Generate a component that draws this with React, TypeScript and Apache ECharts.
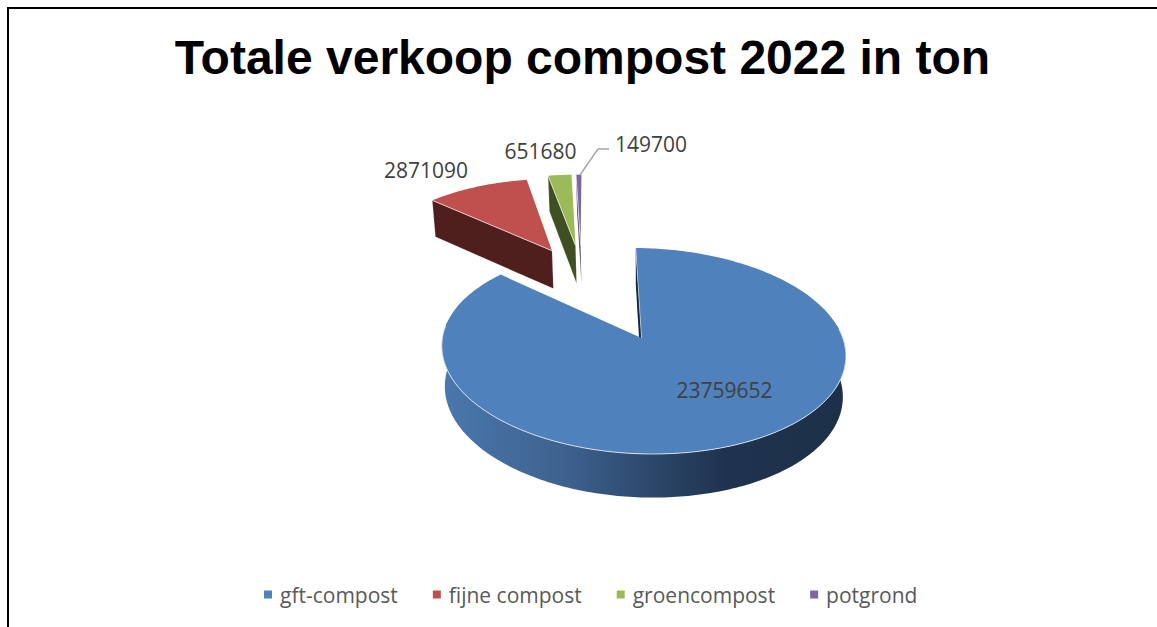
import React, { useEffect, useRef } from "react";
import * as echarts from "echarts";

const categories = ["gft-compost", "fijne compost", "groencompost", "potgrond"];
const tonnes = [23759652, 2871090, 651680, 149700];
const titleText = "Totale verkoop compost 2022 in ton";

const topColors = ["#4f81bd", "#c0504d", "#9bbb59", "#8064a2"];
const wallColors = ["#14263f", "#4f1f1d", "#3f4f21", "#3a2e55"];

// perspective camera and exploded-slice layout
const apexX = [641.5, 552, 575.5, 580.5];
const worldX = [0.228, -0.275, -0.052, -0.01];
const worldY = [0.511, -0.488, -0.557, -0.56];
const nudgeY = [-0.3, 3, 3, 3];
const labelX = [724.5, 426, 540.5, 651];
const labelY = [390, 170, 151, 144];

const total = tonnes.reduce((a, b) => a + b, 0);

function project(i: number, u: number, v: number) {
  const k = 0.1185, m = 0.002, vy = -464.7, h = 754, qv = 590;
  const s = 1 / (1 - k * (worldY[i] + v) - m * (worldX[i] + u));
  const s0 = 1 / (1 - k * worldY[i] - m * worldX[i]);
  const a = u > 0 ? 189 : 187;
  return {
    x: apexX[i] + (apexX[i] - qv) * (s / s0 - 1) + a * u * s,
    y: vy + h * s + nudgeY[i],
    s,
  };
}
const depth = (s: number) => 18 + 21 * s;
const drop = (p: { x: number; y: number; s: number }) => [p.x + (644 - p.x) * 0.015, p.y + depth(p.s)];
const atAngle = (i: number, deg: number) => {
  const r = (deg * Math.PI) / 180;
  return project(i, Math.sin(r), -Math.cos(r));
};
const sweep = (from: number, to: number) => {
  const n = Math.max(2, Math.ceil(Math.abs(to - from)));
  return Array.from({ length: n + 1 }, (_, j) => from + ((to - from) * j) / n);
};

function sliceRange(i: number) {
  const before = tonnes.slice(0, i).reduce((a, b) => a + b, 0);
  return [(before / total) * 360, ((before + tonnes[i]) / total) * 360];
}

function renderSlice(i: number) {
  return () => {
    const [a0, a1] = sliceRange(i);
    const apex = project(i, 0, 0);
    const arc = sweep(a0, a1).map((d) => atAngle(i, d));
    const children: any[] = [];
    const pts = (l: { x: number; y: number }[]) => l.map((p) => [p.x, p.y]);

    if (i === 0) {
      // outer curved wall with its shading
      const rim = sweep(82, 278).map((d) => atAngle(i, d));
      children.push({
        type: "polygon",
        shape: { points: [...pts(rim), ...rim.slice().reverse().map(drop)] },
        style: {
          fill: new echarts.graphic.LinearGradient(0, 0, 1, 0, [
            { offset: 0, color: "#4a78ad" },
            { offset: 0.3, color: "#3e628f" },
            { offset: 0.5, color: "#2e4a6e" },
            { offset: 0.7, color: "#1f334f" },
            { offset: 1, color: "#1d3049" },
          ]),
        },
      });
      // cut wall seen through the notch
      const st = arc[0];
      children.push({
        type: "polygon",
        shape: { points: [[st.x, st.y], [apex.x, apex.y], drop(apex), drop(st)] },
        style: { fill: wallColors[i] },
      });
    } else {
      // straight cut wall, facing the viewer
      const st = arc[0];
      children.push({
        type: "polygon",
        shape: { points: [[st.x, st.y], [apex.x, apex.y], drop(apex), drop(st)] },
        style: { fill: wallColors[i], stroke: "rgba(255,255,255,0.25)", lineWidth: 0.5 },
      });
    }

    children.push({
      type: "polygon",
      shape: { points: [[apex.x, apex.y], ...pts(arc)] },
      style: { fill: topColors[i] },
    });

    if (i === 0) {
      const front = sweep(84, 276).map((d) => atAngle(i, d));
      children.push({
        type: "polyline",
        shape: { points: pts(front) },
        style: { fill: "none", stroke: "rgba(232,238,245,0.85)", lineWidth: 1 },
      });
      children.push({
        type: "polyline",
        shape: { points: [[arc[0].x, arc[0].y], [apex.x, apex.y]] },
        style: { fill: "none", stroke: "rgba(232,238,245,0.7)", lineWidth: 0.8 },
      });
    } else {
      children.push({
        type: "polyline",
        shape: { points: [[arc[0].x, arc[0].y], [apex.x, apex.y]] },
        style: { fill: "none", stroke: "rgba(240,235,235,0.75)", lineWidth: 1 },
      });
    }

    if (i === 3) {
      children.push({
        type: "polyline",
        shape: { points: [[580, 175], [598, 149], [609, 149]] },
        style: { fill: "none", stroke: "#a6a6a6", lineWidth: 1.4 },
      });
    }

    children.push({
      type: "text",
      style: {
        x: labelX[i],
        y: labelY[i],
        text: String(tonnes[i]),
        fill: "#404040",
        font: '21px "Open Sans"',
        align: "center",
        verticalAlign: "middle",
      },
    });
    return { type: "group", children };
  };
}

export default function App() {
  const ref = useRef<HTMLDivElement>(null);
  useEffect(() => {
    document.body.style.margin = "0";
    const chart = echarts.init(ref.current!, undefined, { renderer: "svg" });
    chart.setOption({
      animation: false,
      backgroundColor: "#ffffff",
      title: {
        text: titleText,
        left: 577.5,
        top: 28,
        textAlign: "center",
        textStyle: { fontFamily: "Liberation Sans", fontWeight: "bold", fontSize: 48, color: "#000000" },
      },
      legend: {
        data: categories,
        left: 264,
        top: 584,
        icon: "rect",
        itemWidth: 8,
        itemHeight: 8,
        itemGap: 35,
        padding: 0,
        textStyle: { fontFamily: "Open Sans", fontSize: 21, color: "#595959", padding: [0, 0, 0, 3] },
      },
      graphic: [
        {
          type: "polyline",
          shape: { points: [[8, 627], [8, 8], [1157, 8]] },
          style: { fill: "none", stroke: "#000000", lineWidth: 2 },
        },
      ],
      series: [3, 2, 1, 0].map((i) => ({
        type: "custom",
        name: categories[i],
        coordinateSystem: "none",
        renderItem: renderSlice(i),
        itemStyle: { color: topColors[i] },
        data: [[tonnes[i]]],
        silent: true,
        clip: false,
      })),
    });
    return () => chart.dispose();
  }, []);
  return <div ref={ref} style={{ width: 1157, height: 627 }} />;
}
